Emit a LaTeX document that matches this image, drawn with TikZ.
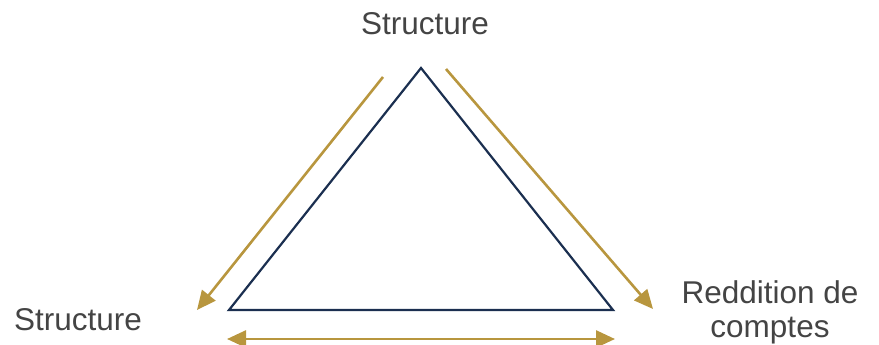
\documentclass[tikz,border=0pt]{standalone}
\usepackage{fontspec}
\setmainfont{Liberation Sans}
\usetikzlibrary{arrows.meta}
\definecolor{navy}{HTML}{1B2F50}
\definecolor{gold}{HTML}{B8963E}
\definecolor{txt}{HTML}{444444}
\begin{document}
\begin{tikzpicture}[x=1pt,y=-1pt,
  lbl/.style={text=txt,font=\fontsize{31.5}{34}\selectfont,align=center,inner sep=0pt},
  goldarrow/.style={draw=gold,line width=2.6pt,-{Triangle[length=19pt,width=17pt]}},
  goldboth/.style={draw=gold,line width=2.6pt,{Triangle[length=19pt,width=17pt]}-{Triangle[length=19pt,width=17pt]}}]
\useasboundingbox (0,0) rectangle (879,345);
\coordinate (A) at (421,68);
\coordinate (B) at (229,310);
\coordinate (C) at (613,310);
\draw[navy,line width=2.2pt,line join=miter] (A) -- (B) -- (C) -- cycle;
\coordinate (l1) at (383,77);
\coordinate (l2) at (197,310);
\coordinate (r1) at (446,69);
\coordinate (r2) at (653,309);
\coordinate (b1) at (227,339);
\coordinate (b2) at (615,339);
\draw[goldarrow] (l1) -- (l2);
\draw[goldarrow] (r1) -- (r2);
\draw[goldboth] (b1) -- (b2);
\node[lbl] (top) at (425,24) {Structure};
\node[lbl] (left) at (78,320) {Structure};
\node[lbl] (right) at (770,312) {Reddition de\\comptes};
\end{tikzpicture}
\end{document}
